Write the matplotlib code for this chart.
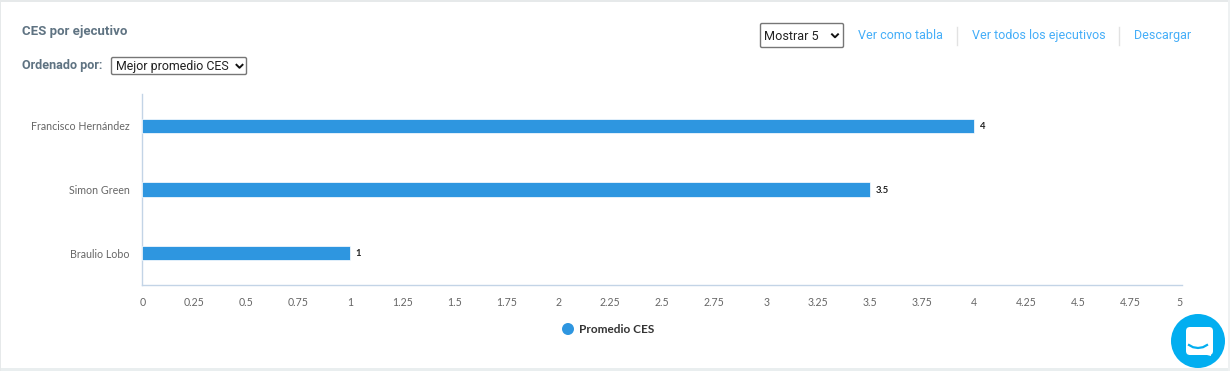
import matplotlib
matplotlib.use("Agg")
import matplotlib.pyplot as plt
from matplotlib.patches import Circle, FancyBboxPatch, Polygon, Rectangle

executives = ["Francisco Hernández", "Simon Green", "Braulio Lobo"]
ces_values = [4, 3.5, 1]
value_labels = ["4", "3.5", "1"]
x_ticks = [0, 0.25, 0.5, 0.75, 1, 1.25, 1.5, 1.75, 2, 2.25, 2.5, 2.75, 3, 3.25, 3.5, 3.75, 4, 4.25, 4.5, 4.75, 5]
x_tick_labels = ["0", "0.25", "0.5", "0.75", "1", "1.25", "1.5", "1.75", "2", "2.25", "2.5", "2.75",
                 "3", "3.25", "3.5", "3.75", "4", "4.25", "4.5", "4.75", "5"]
series_name = "Promedio CES"

W, H = 1230, 371
BAR_BLUE = "#2e96e0"
LINK_BLUE = "#45aef8"
AXIS_LINE = "#c3d4e6"
GREY_TEXT = "#666666"
HEAD_TEXT = "#5f7382"

fig = plt.figure(figsize=(W / 100, H / 100), dpi=100, facecolor="white")

# overlay in pixel coords for the page parts around the chart
ui = fig.add_axes([0, 0, 1, 1])
ui.set_xlim(0, W)
ui.set_ylim(H, 0)
ui.axis("off")

ui.add_patch(Rectangle((0, 0), W, 2, fc="#e6e9ea", ec="none"))
ui.add_patch(Rectangle((0, 368), W, 3, fc="#e9eeef", ec="none"))
ui.add_patch(Rectangle((0, 0), 0.8, H, fc="#e6e9ea", ec="none"))
ui.add_patch(Rectangle((1228, 0), 2, H, fc="#eef1f2", ec="none"))

ui.text(22, 31, "CES por ejecutivo", family="Roboto", weight="bold", fontsize=9.55, color=HEAD_TEXT, va="center")
ui.text(22, 66, "Ordenado por:", family="Roboto", weight="bold", fontsize=9.05, color=HEAD_TEXT, va="center")


def select_box(x, y, w, h, label, fontsize, arrow_inset):
    ui.add_patch(FancyBboxPatch((x + 1, y + 1), w - 2, h - 2, boxstyle="round,pad=0.5,rounding_size=1.5",
                                fc="white", ec="#767676", lw=1))
    ui.text(x + 4.5, y + h / 2 + 0.5, label, family="Roboto", fontsize=fontsize, color="#222222", va="center")
    ax_x = x + w - arrow_inset
    ax_y = y + h / 2
    ui.plot([ax_x - 3, ax_x, ax_x + 3], [ax_y - 1.2, ax_y + 1.8, ax_y - 1.2], color="#111111", lw=1.4)


select_box(111, 57, 136, 18, "Mejor promedio CES", 8.9, 7.5)
select_box(760, 23, 84, 25, "Mostrar 5", 9.1, 9)

ui.text(858, 35.5, "Ver como tabla", family="Roboto", fontsize=9, color=LINK_BLUE, va="center")
ui.text(972, 35.5, "Ver todos los ejecutivos", family="Roboto", fontsize=9, color=LINK_BLUE, va="center")
ui.text(1134, 35.5, "Descargar", family="Roboto", fontsize=9, color=LINK_BLUE, va="center")
for sep_x in (957, 1119):
    ui.plot([sep_x, sep_x], [27, 45], color="#e2e2e2", lw=1)

# chart
ax = fig.add_axes([142.2 / W, 1 - 285 / H, (1182.2 - 142.2) / W, (285 - 94) / H])
ax.set_facecolor("none")
positions = list(range(len(executives)))
ax.barh(positions, ces_values, height=0.225, color=BAR_BLUE, edgecolor="white", linewidth=0.5, zorder=3)
ax.set_xlim(0, 5)
ax.set_ylim(len(executives) - 0.5, -0.5)
ax.set_xticks(x_ticks)
ax.set_xticklabels(x_tick_labels, family="Lato", fontsize=7.6, color=GREY_TEXT)
ax.set_yticks(positions)
ax.set_yticklabels(executives, family="Lato", fontsize=7.65, color=GREY_TEXT)
ax.tick_params(axis="x", length=0, pad=8.5)
ax.tick_params(axis="y", length=0, pad=9.0)
# last label stays inside the plot's right edge
ax.get_xticklabels()[-1].set_ha("right")
for side in ("top", "right"):
    ax.spines[side].set_visible(False)
for side in ("left", "bottom"):
    ax.spines[side].set_color(AXIS_LINE)
    ax.spines[side].set_linewidth(1)
for pos, val, lab in zip(positions, ces_values, value_labels):
    ax.annotate(lab, (val, pos), xytext=(3.8, -0.6), textcoords="offset points", family="Lato",
                weight="bold", fontsize=6.8, color="#222222", va="center")

# legend
ui.add_patch(Circle((568, 329), 6, fc=BAR_BLUE, ec="none"))
ui.text(579, 329.5, series_name, family="Lato", weight="bold", fontsize=8.5, color="#333333", va="center")

# chat bubble
ui.add_patch(Circle((1198, 341), 27, fc="#02aef0", ec="none", zorder=5))
ui.add_patch(FancyBboxPatch((1188, 329), 23, 24, boxstyle="round,pad=2,rounding_size=4", fc="white", ec="none", zorder=6))
ui.add_patch(Polygon([[1203, 354], [1211, 354], [1211, 356]], fc="white", ec="none", zorder=6))
ui.plot([1189, 1193, 1198, 1203, 1207], [345, 347.2, 348, 347.2, 345], color="#02aef0", lw=1.6, zorder=7)

fig.savefig("out.png", dpi=100)
